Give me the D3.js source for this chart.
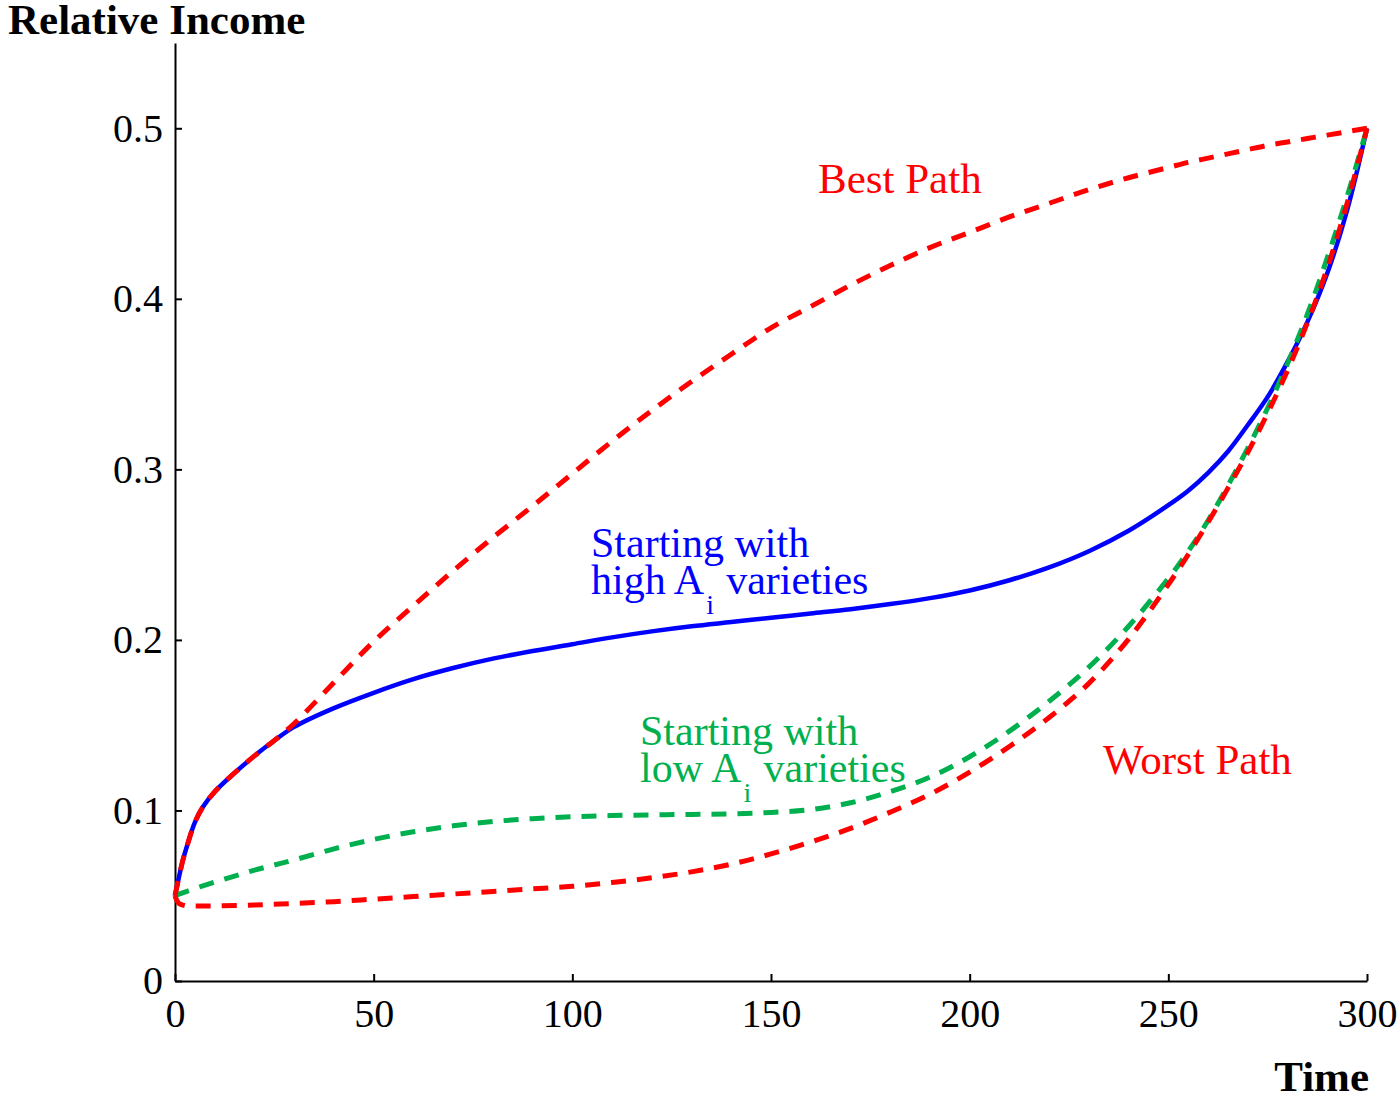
<!DOCTYPE html>
<html>
<head>
<meta charset="utf-8">
<script src="https://cdn.jsdelivr.net/npm/d3@7"></script>
<style>
  body { margin: 0; background: #fff; }
  text { font-family: "Liberation Serif", "Times New Roman", serif; }
</style>
</head>
<body>
<div id="graph1"></div>
<script>
// chart data
const timeGrid = [0, 1, 2, 3, 5, 7, 10, 15, 20, 25, 30, 40, 50, 60, 70, 80, 90, 100, 110, 120, 130, 140, 150, 160, 170, 180, 190, 200, 210, 220, 230, 240, 250, 255, 260, 265, 270, 275, 280, 285, 290, 295, 300];

// blue solid: starting with high A_i varieties
const highValues = [0.050, 0.061, 0.071, 0.079, 0.093, 0.102, 0.111, 0.122, 0.132, 0.141, 0.149, 0.160, 0.169, 0.177, 0.1835, 0.189, 0.1935, 0.1975, 0.2015, 0.205, 0.208, 0.2105, 0.213, 0.2155, 0.218, 0.221, 0.2245, 0.229, 0.235, 0.2425, 0.252, 0.264, 0.279, 0.2875, 0.298, 0.3105, 0.326, 0.3425, 0.363, 0.3865, 0.415, 0.452, 0.500];

// green dashed: starting with low A_i varieties
const lowValues = [0.050, 0.0509, 0.0518, 0.0526, 0.0542, 0.0558, 0.058, 0.0615, 0.065, 0.068, 0.071, 0.0775, 0.083, 0.0875, 0.091, 0.0935, 0.0952, 0.0963, 0.097, 0.0974, 0.0977, 0.098, 0.0988, 0.1005, 0.1045, 0.111, 0.1195, 0.1315, 0.1465, 0.164, 0.184, 0.208, 0.236, 0.252, 0.270, 0.2905, 0.3125, 0.336, 0.362, 0.391, 0.424, 0.460, 0.500];

// red dashed: best path
const bestValues = [0.050, 0.061, 0.071, 0.079, 0.093, 0.102, 0.111, 0.122, 0.132, 0.141, 0.151, 0.175, 0.199, 0.220, 0.2405, 0.260, 0.2785, 0.2975, 0.3165, 0.3345, 0.3515, 0.3675, 0.383, 0.3955, 0.408, 0.4195, 0.430, 0.439, 0.448, 0.456, 0.464, 0.471, 0.477, 0.480, 0.4825, 0.485, 0.4875, 0.490, 0.492, 0.494, 0.496, 0.498, 0.500];

// red dashed: worst path (extra point just after t=0 for the little hook)
const worstTime = [0, 0.5, 1, 2, 3, 5, 10, 20, 30, 40, 50, 60, 70, 80, 90, 100, 110, 120, 130, 140, 150, 160, 170, 180, 190, 200, 210, 220, 230, 240, 250, 255, 260, 265, 270, 275, 280, 285, 290, 295, 300];
const worstValues = [0.050, 0.047, 0.0455, 0.0445, 0.044, 0.044, 0.044, 0.0445, 0.0455, 0.0465, 0.048, 0.0495, 0.051, 0.0525, 0.054, 0.0555, 0.0578, 0.0605, 0.064, 0.0685, 0.0745, 0.0815, 0.0895, 0.099, 0.1095, 0.1225, 0.1375, 0.1545, 0.1745, 0.2005, 0.2325, 0.250, 0.269, 0.289, 0.310, 0.333, 0.358, 0.386, 0.418, 0.456, 0.500];

const xTicks = [0, 50, 100, 150, 200, 250, 300];
const yTicks = [0, 0.1, 0.2, 0.3, 0.4, 0.5];

const WIDTH = 1400, HEIGHT = 1095;
const margin = {top: 43, right: 33, bottom: 114, left: 175};

let svg = d3.select("div#graph1")
    .append("svg")
    .attr("width", WIDTH)
    .attr("height", HEIGHT);

let x = d3.scaleLinear()
    .domain([0, 300])
    .range([margin.left, WIDTH - margin.right]);

let y = d3.scaleLinear()
    .domain([0, 0.55])
    .range([HEIGHT - margin.bottom, margin.top]);

// axes, ticks pointing inward like the original
let xAxis = svg.append("g")
    .attr("transform", `translate(0,${y(0)})`)
    .call(d3.axisBottom(x).tickValues(xTicks).tickSize(-7).tickSizeOuter(0).tickPadding(18));

let yAxis = svg.append("g")
    .attr("transform", `translate(${x(0)},0)`)
    .call(d3.axisLeft(y).tickValues(yTicks).tickSize(-7).tickSizeOuter(0).tickPadding(12)
        .tickFormat(function(d) { return d === 0 ? "0" : d.toFixed(1); }));

[xAxis, yAxis].forEach(function(a) {
    a.selectAll("path.domain").attr("stroke", "#000").attr("stroke-width", 2);
    a.selectAll(".tick line").attr("stroke", "#000").attr("stroke-width", 2);
    a.selectAll(".tick text")
        .attr("fill", "#000")
        .style("font-family", "Liberation Serif")
        .style("font-size", "40px");
});
xAxis.selectAll(".tick text").attr("dy", "0.71em");

// curves
let line = d3.line()
    .x(function(d) { return x(d[0]); })
    .y(function(d) { return y(d[1]); })
    .curve(d3.curveCatmullRom.alpha(0.5));

function pairs(ts, vs) {
    return ts.map(function(t, i) { return [t, vs[i]]; });
}

let series = [
    {data: pairs(timeGrid, highValues), color: "#0000ff", dash: null, w: 4.5},
    {data: pairs(timeGrid, lowValues), color: "#00b04f", dash: "15,11", w: 5},
    {data: pairs(timeGrid, bestValues), color: "#ff0000", dash: "15,11", w: 5},
    {data: pairs(worstTime, worstValues), color: "#ff0000", dash: "15,11", w: 5}
];

svg.append("g").selectAll("path")
    .data(series)
    .enter()
    .append("path")
    .attr("d", function(d) { return line(d.data); })
    .attr("fill", "none")
    .attr("stroke", function(d) { return d.color; })
    .attr("stroke-width", function(d) { return d.w; })
    .attr("stroke-dasharray", function(d) { return d.dash; });

// axis titles
svg.append("text")
    .attr("x", 8)
    .attr("y", 34)
    .style("font-size", "43px")
    .style("font-weight", "bold")
    .text("Relative Income");

svg.append("text")
    .attr("x", 1369)
    .attr("y", 1091)
    .style("text-anchor", "end")
    .style("font-size", "43px")
    .style("font-weight", "bold")
    .text("Time");

// annotations
svg.append("text")
    .attr("x", 818).attr("y", 193)
    .attr("fill", "#ff0000")
    .style("font-size", "43px")
    .text("Best Path");

svg.append("text")
    .attr("x", 1103).attr("y", 774)
    .attr("fill", "#ff0000")
    .style("font-size", "43px")
    .text("Worst Path");

// two line label with a subscript i after the A
function twoLineLabel(x0, y0, word, color) {
    let g = svg.append("g").attr("fill", color).style("font-size", "42px");
    g.append("text").attr("x", x0).attr("y", y0).text("Starting with");
    let first = g.append("text").attr("x", x0).attr("y", y0 + 37).text(word + " A");
    let len = first.node().getComputedTextLength();
    g.append("text").attr("x", x0 + len + 2).attr("y", y0 + 57).style("font-size", "28px").text("i");
    g.append("text").attr("x", x0 + len + 22).attr("y", y0 + 37).text("varieties");
}

twoLineLabel(591, 557, "high", "#0000ff");
twoLineLabel(640, 745, "low", "#00b04f");
</script>
</body>
</html>
